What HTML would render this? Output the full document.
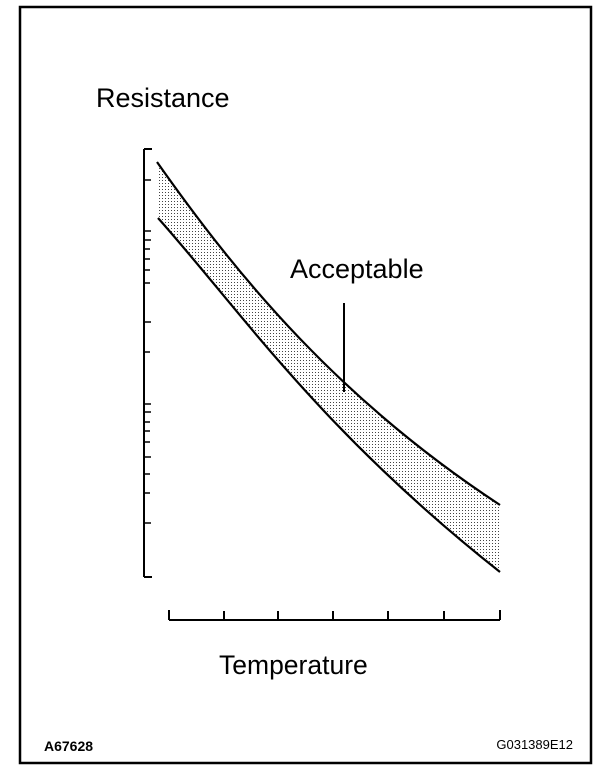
<!DOCTYPE html>
<html><head><meta charset="utf-8"><style>
html,body{margin:0;padding:0;background:#fff;}
svg{display:block;}
text{font-family:"Liberation Sans",Arial,sans-serif;fill:#000;}
</style></head><body>
<svg width="608" height="774" viewBox="0 0 608 774" xmlns="http://www.w3.org/2000/svg">
<defs>
<pattern id="dots" width="3" height="3" patternUnits="userSpaceOnUse">
<rect x="0" y="0" width="1" height="1" fill="#444"/>
</pattern>
</defs>
<rect x="20" y="7" width="571" height="756" fill="none" stroke="#000" stroke-width="2.5"/>
<text x="96" y="107" font-size="27">Resistance</text>
<text x="290" y="278" font-size="27">Acceptable</text>
<text x="219" y="674" font-size="26.5">Temperature</text>
<text x="44" y="751" font-size="14" font-weight="bold">A67628</text>
<text x="573" y="749" font-size="13" text-anchor="end">G031389E12</text>
<g stroke="#000" stroke-width="2" fill="none">
<path d="M144,149 V577"/>
<path d="M144,149 H152 M144,577 H152"/>
</g>
<g stroke="#000" stroke-width="1.5">
<path d="M144,180h7 M144,231h7 M144,240h7 M144,249h6 M144,259h6 M144,270h6 M144,283h6 M144,322h7 M144,352h6 M144,404h7 M144,412h7 M144,422h6 M144,431h6 M144,442h6 M144,457h7 M144,474h6 M144,493h6 M144,523h7"/>
</g>
<g stroke="#000" stroke-width="2" fill="none">
<path d="M169,620 H500"/>
<path d="M169,610V620 M224,611V620 M278,611V620 M333,611V620 M388,611V620 M444,611V620 M500,610V620"/>
</g>
<path d="M157,162 C240,280 340,400 500,505 L500,572 C320,430 240,310 158,218 Z" fill="url(#dots)" stroke="none"/>
<path d="M157,162 C240,280 340,400 500,505" fill="none" stroke="#000" stroke-width="2.2"/>
<path d="M158,218 C240,310 320,430 500,572" fill="none" stroke="#000" stroke-width="2.2"/>
<path d="M344,303 V392" stroke="#000" stroke-width="2"/>
</svg>
</body></html>
